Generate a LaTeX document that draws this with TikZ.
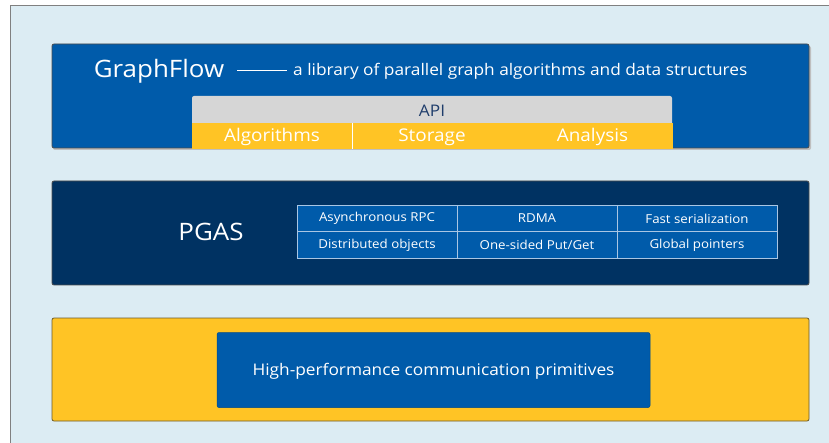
\documentclass[tikz,border=0pt]{standalone}
\usepackage{fontspec}
\setmainfont{Open Sans}[FakeStretch=1.08]
\definecolor{bgblue}{HTML}{DCECF3}
\definecolor{gfblue}{HTML}{005BAA}
\definecolor{navy}{HTML}{003262}
\definecolor{gold}{HTML}{FFC425}
\definecolor{apigray}{HTML}{D6D6D6}
\definecolor{apitext}{HTML}{1F3D6B}
\definecolor{cellline}{HTML}{A9C6E4}
\definecolor{goldline}{HTML}{6B5A2A}
\begin{document}
\begin{tikzpicture}[x=1pt,y=-1pt,
  layer/.style={draw=#1,line width=0.8pt,rounded corners=2pt},
  wt/.style={text=white,inner sep=0pt,anchor=base},
  cell/.style={draw=cellline,line width=0.7pt,fill=gfblue,minimum width=160pt,minimum height=26.5pt,inner sep=0pt,text=white,font=\fontsize{12.3}{14}\selectfont},
  band/.style={fill=gold,minimum width=160.6pt,text height=18.5pt,text depth=7.5pt,inner sep=0pt,text=white,font=\fontsize{17.5}{20}\selectfont}]
\useasboundingbox (0,0) rectangle (829,443);
\fill[white] (0,0) rectangle (829,443);
\fill[bgblue] (10,5) rectangle (829,443);
\draw[gray,line width=0.8pt] (10,443) -- (10,5) -- (829,5);
% top layer
\fill[black!25,rounded corners=2pt] (53,46) rectangle (811,150);
\draw[layer=black!70,fill=gfblue] (52,44) rectangle (809,148);
\node[wt,font=\fontsize{24}{28}\selectfont] (gf) at (159,78) {GraphFlow};
\coordinate (l1) at (237,70);
\coordinate (l2) at (287,70);
\draw[white,line width=0.8pt] (l1) -- (l2);
\node[wt,anchor=base west,font=\fontsize{16}{19}\selectfont] (sub) at (293,76) {a library of parallel graph algorithms and data structures};
\fill[apigray,rounded corners=2pt] (192,96) rectangle (672,128);
\node[text=apitext,inner sep=0pt,anchor=base,font=\fontsize{16}{19}\selectfont] (api) at (432,117) {API};
\node[band] (alg) at (272,136) {Algorithms};
\node[band] (sto) at (432,136) {Storage};
\node[band] (ana) at (592.5,136) {Analysis};
\draw[white,line width=0.6pt] (alg.north east) -- (alg.south east);
% middle layer
\draw[layer=black!70,fill=navy] (52,181) rectangle (809,285);
\node[text=white,inner sep=0pt,font=\fontsize{24}{28}\selectfont] (pgas) at (211,232) {PGAS};
\node[cell] (c11) at (377,218.5) {Asynchronous RPC};
\node[cell] (c12) at (537,218.5) {RDMA};
\node[cell] (c13) at (697,218.5) {Fast serialization};
\node[cell] (c21) at (377,245) {Distributed objects};
\node[cell] (c22) at (537,245) {One-sided Put/Get};
\node[cell] (c23) at (697,245) {Global pointers};
% bottom layer
\draw[layer=goldline,fill=gold] (52,318) rectangle (809,421);
\node[fill=gfblue,draw=gfblue!80!black,line width=0.5pt,rounded corners=2pt,minimum width=433pt,text height=43pt,text depth=32pt,inner sep=0pt,text=white,font=\fontsize{16}{19}\selectfont] (hp) at (433.5,370) {High-performance communication primitives};
\end{tikzpicture}
\end{document}
